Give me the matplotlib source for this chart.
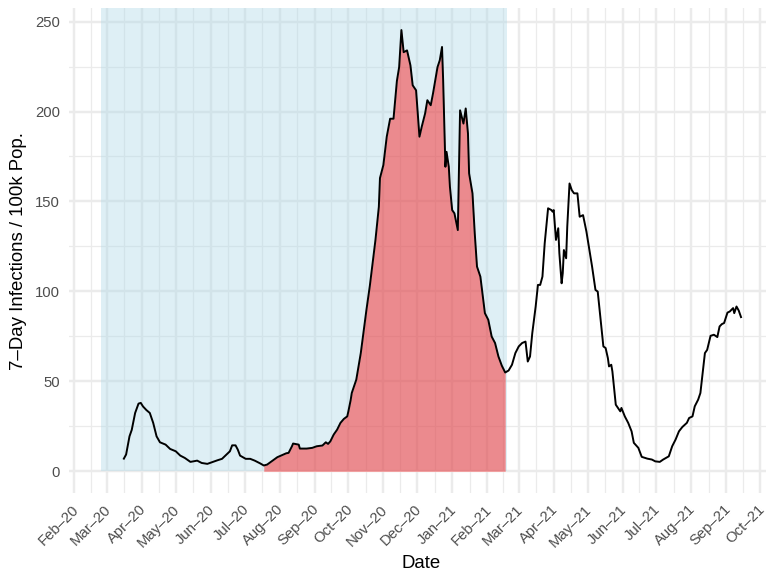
import numpy as np
import pandas as pd
import matplotlib
matplotlib.use('Agg')
import matplotlib.pyplot as plt
import matplotlib.dates as mdates
import matplotlib.transforms as mtransforms
from matplotlib.ticker import FixedLocator

plt.rcParams['font.family'] = ['Liberation Sans', 'DejaVu Sans']

# 7-day incidence per 100k, sampled by days after 2020-02-01
start = pd.Timestamp('2020-02-01')
days = [44, 46, 49, 51, 54, 57, 59, 61, 64, 67, 70, 73, 76, 81, 85, 90, 94, 98,
        103, 109, 113, 118, 122, 127, 131, 135, 138, 140, 143, 145, 147, 152,
        156, 160, 165, 168, 171, 175, 180, 184, 188, 190, 193, 194, 199, 200,
        206, 211, 215, 220, 223, 225, 227, 230, 233, 236, 239, 242, 243, 245,
        246, 248, 250, 254, 259, 262, 267, 270, 271, 274, 277, 280, 283, 286,
        288, 290, 292, 295, 298, 300, 303, 306, 308, 311, 313, 316, 318, 322,
        324, 326, 327, 329, 330, 332, 333, 335, 337, 340, 342, 345, 347, 349,
        350, 353, 355, 357, 360, 364, 367, 370, 373, 376, 379, 382, 385, 388,
        391, 394, 397, 400, 402, 404, 406, 409, 411, 413, 415, 417, 420, 423,
        424, 425, 427, 429, 430, 432, 433, 434, 436, 437, 439, 441, 443, 446,
        448, 451, 454, 459, 462, 464, 466, 469, 471, 473, 474, 476, 477, 480,
        482, 484, 485, 488, 491, 494, 496, 500, 503, 508, 512, 515, 519, 522,
        527, 530, 533, 536, 539, 543, 545, 548, 550, 553, 555, 557, 559, 561,
        564, 567, 570, 572, 574, 576, 579, 581, 584, 585, 587, 589, 591]
incidence = [7.0, 9.3, 19.4, 23.0, 32.4, 37.6, 38.0, 36.0, 34.0, 32.4, 26.9, 19.4,
             16.1, 14.8, 12.4, 11.1, 8.7, 7.4, 5.2, 5.9, 4.6, 4.1, 5.0, 6.1, 6.9,
             9.3, 11.1, 14.4, 14.4, 12.0, 8.7, 6.9, 6.9, 5.9, 4.3, 3.2, 3.7, 5.5,
             7.8, 8.9, 10.0, 10.2, 13.9, 15.4, 14.8, 12.6, 12.6, 13.0, 13.9, 14.3,
             16.1, 15.2, 16.6, 20.4, 23.1, 26.9, 29.1, 30.5, 33.3, 39.5, 43.5,
             47.2, 50.9, 65.7, 89.7, 103.0, 128.6, 147.0, 163.0, 170.2, 186.0,
             196.0, 196.0, 217.0, 224.7, 245.3, 233.0, 234.0, 225.7, 214.6, 211.8,
             186.0, 191.5, 198.9, 206.3, 203.5, 210.0, 224.7, 228.5, 235.9, 217.4,
             169.3, 177.6, 169.3, 158.2, 145.2, 143.4, 134.1, 200.7, 193.3, 201.7,
             187.8, 165.6, 154.5, 132.3, 113.8, 108.2, 87.9, 84.2, 74.9, 71.3,
             63.8, 58.7, 54.9, 56.0, 59.2, 65.7, 69.4, 71.3, 72.1, 61.0, 63.8,
             76.8, 91.6, 103.6, 103.6, 108.2, 126.7, 146.2, 145.2, 144.3, 145.2,
             128.6, 135.1, 121.2, 104.5, 110.1, 123.0, 118.4, 136.0, 160.0, 156.3,
             154.5, 154.5, 141.5, 142.4, 133.2, 113.8, 100.8, 99.9, 87.9, 69.4,
             68.5, 62.9, 58.3, 59.2, 55.5, 37.0, 35.2, 33.3, 35.2, 30.5, 26.9,
             22.2, 15.8, 13.0, 8.0, 7.0, 6.5, 5.5, 5.2, 6.5, 8.3, 13.9, 17.6, 22.2,
             24.6, 26.9, 29.6, 30.5, 36.1, 39.8, 43.5, 54.6, 65.7, 67.5, 75.3,
             75.9, 74.6, 80.5, 81.8, 82.4, 88.2, 88.8, 90.7, 87.9, 91.6, 89.3, 85.7]

# shaded period and highlighted wave
shade_start, shade_end = pd.Timestamp('2020-02-25'), pd.Timestamp('2021-02-19')
wave_start, wave_end = pd.Timestamp('2020-07-18'), pd.Timestamp('2021-02-17')

dates = start + pd.to_timedelta(days, unit='D')
inc = np.array(incidence)

fig = plt.figure(figsize=(7.66, 5.76), dpi=100)
ax = fig.add_axes([69.3 / 766, (576 - 493.3) / 576, 703.7 / 766, 485.3 / 576])

# limits with 5% padding like ggplot
x0 = mdates.date2num(min(shade_start, dates[0]))
x1 = mdates.date2num(dates[-1])
ax.set_xlim(x0 - 0.05 * (x1 - x0), x1 + 0.05 * (x1 - x0))
y0, y1 = 0, inc.max()
ylim = (y0 - 0.05 * (y1 - y0), y1 + 0.05 * (y1 - y0))
ax.set_ylim(ylim)

ax.fill_between([shade_start, shade_end], 0, ylim[1], color='lightblue', alpha=0.4, lw=0)
mask = (dates >= wave_start) & (dates <= wave_end)
ax.fill_between(dates[mask], 0, inc[mask], color='red', alpha=0.42, lw=0)
ax.plot(dates, inc, color='black', lw=1.4)

# month breaks, minor lines halfway between
months = pd.date_range('2020-01-01', '2021-11-01', freq='MS')
mnum = mdates.date2num(months)
ax.xaxis.set_major_locator(mdates.MonthLocator())
ax.xaxis.set_major_formatter(mdates.DateFormatter('%b\u2013%y'))
ax.xaxis.set_minor_locator(FixedLocator((mnum[:-1] + mnum[1:]) / 2))
ax.set_yticks(np.arange(0, 251, 50))
ax.set_yticks(np.arange(25, 250, 50), minor=True)

ax.grid(which='major', color='#EBEBEB', lw=1.75)
ax.grid(which='minor', color='#EBEBEB', lw=0.9)
ax.set_axisbelow(True)
for s in ax.spines.values():
    s.set_visible(False)

ax.tick_params(which='both', length=0)
ax.tick_params(axis='x', pad=6.5, labelsize=10.75, labelcolor='#4D4D4D')
ax.tick_params(axis='y', pad=6.7, labelsize=10.75, labelcolor='#4D4D4D')
shift = mtransforms.ScaledTranslation(-3 / 100, 0, fig.dpi_scale_trans)
for lab in ax.get_xticklabels():
    lab.set_rotation(45)
    lab.set_ha('right')
    lab.set_va('top')
    lab.set_rotation_mode('anchor')
    lab.set_transform(lab.get_transform() + shift)

ax.set_xlabel('Date', fontsize=13.44, labelpad=3.5)
ax.set_ylabel('7\u2013Day Infections / 100k Pop.', fontsize=13.44, labelpad=5.5)

fig.savefig('out.png', dpi=100)
